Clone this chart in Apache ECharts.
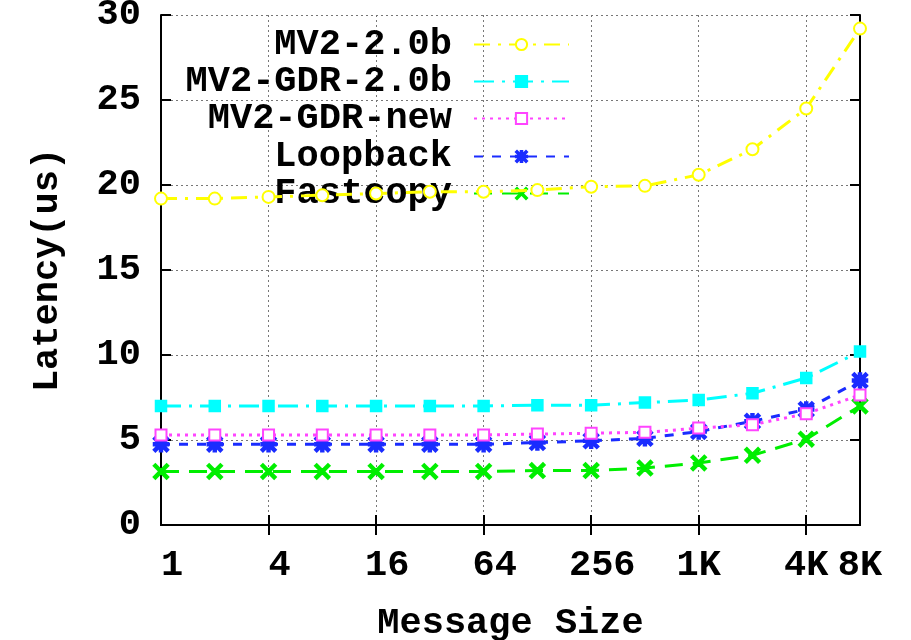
<!DOCTYPE html>
<html>
<head>
<meta charset="utf-8">
<script src="https://cdn.jsdelivr.net/npm/echarts@6/dist/echarts.min.js"></script>
<style>html,body{margin:0;padding:0;background:#fff}#c{width:911px;height:640px}</style>
</head>
<body>
<div id="c"></div>
<script>
const sizes = ['1','2','4','8','16','32','64','128','256','512','1K','2K','4K','8K'];
const shownLabels = ['1','4','16','64','256','1K','4K','8K'];
const mv2 = [19.2,19.2,19.3,19.4,19.5,19.6,19.6,19.7,19.9,19.95,20.6,22.1,24.5,29.2];
const gdr20b = [7.0,7.0,7.0,7.0,7.0,7.0,7.0,7.05,7.05,7.2,7.35,7.75,8.65,10.2];
const gdrNew = [5.3,5.3,5.3,5.3,5.3,5.3,5.3,5.35,5.4,5.45,5.7,5.9,6.55,7.65];
const loopback = [4.75,4.75,4.75,4.75,4.75,4.75,4.75,4.85,4.95,5.1,5.5,6.1,6.8,8.5];
const fastcopy = [3.15,3.15,3.15,3.15,3.15,3.15,3.15,3.2,3.2,3.35,3.65,4.1,5.05,7.0];
const seriesNames = ['MV2-2.0b','MV2-GDR-2.0b','MV2-GDR-new','Loopback','Fastcopy'];

const FONT = 'Liberation Mono';
const XPATH = 'path://M0,1 L1,0 L5,4 L9,0 L10,1 L6,5 L10,9 L9,10 L5,6 L1,10 L0,9 L4,5 Z';
const STAR = 'path://M0,1 L1,0 L5,4 L9,0 L10,1 L6,5 L10,9 L9,10 L5,6 L1,10 L0,9 L4,5 Z M4.3,0 L5.7,0 L5.7,10 L4.3,10 Z M0,4.3 L10,4.3 L10,5.7 L0,5.7 Z';

const showIdx = (i, v) => shownLabels.indexOf(v) >= 0;
const innerIdx = (i, v) => shownLabels.indexOf(v) >= 0 && v !== '1' && v !== '8K';

const styles = [
  {color:'#ffff00', symbol:'emptyCircle', size:12, dash:[16,8,3,8]},
  {color:'#00ffff', symbol:'rect', size:10, dash:[20,8,3,8]},
  {color:'#ff44ff', symbol:'emptyRect', size:11, dash:[3,5]},
  {color:'#1a2cff', symbol:STAR, size:14, dash:[9,9]},
  {color:'#00ee00', symbol:XPATH, size:14, dash:[18,10]}
];
const dataSets = [mv2, gdr20b, gdrNew, loopback, fastcopy];
const legendTops = [45, 82, 119, 157, 194];

const option = {
  animation: false,
  backgroundColor: '#fff',
  grid: {left:161, right:51, top:15, bottom:115, outerBoundsMode: 'none', containLabel: false},
  legend: seriesNames.map((n, i) => ({
    data: [n],
    orient: 'vertical',
    align: 'right',
    right: 341,
    top: legendTops[i] - 19,
    padding: 0,
    itemWidth: 95,
    itemHeight: 14,
    selectedMode: false,
    textStyle: {fontFamily: FONT, fontSize: 37, fontWeight: 'bold', color: '#000', padding: [0, 17, 0, 0]}
  })),
  xAxis: [{
    type: 'category', data: sizes, boundaryGap: false,
    name: 'Message Size', nameLocation: 'middle', nameGap: 80,
    nameTextStyle: {fontFamily: FONT, fontSize: 37, fontWeight: 'bold', color: '#000'},
    axisLine: {lineStyle: {color: '#000', width: 2}},
    axisTick: {inside: true, length: 10, interval: innerIdx, lineStyle: {color: '#000', width: 2}},
    axisLabel: {interval: showIdx, margin: 22, fontFamily: FONT, fontSize: 37, fontWeight: 'bold', color: '#000',
      formatter: v => (v.indexOf('K') < 0 ? ' ' : '') + v},
    splitLine: {show: true, interval: innerIdx, lineStyle: {color: '#777', width: 1, type: [2, 3]}}
  }, {
    type: 'category', data: sizes, boundaryGap: false, position: 'top',
    axisLine: {lineStyle: {color: '#000', width: 2}},
    axisTick: {inside: true, length: 10, interval: innerIdx, lineStyle: {color: '#000', width: 2}},
    axisLabel: {show: false}, splitLine: {show: false}
  }],
  yAxis: [{
    type: 'value', min: 0, max: 30, interval: 5,
    name: 'Latency(us)', nameLocation: 'middle', nameGap: 95, nameRotate: 90,
    nameTextStyle: {fontFamily: FONT, fontSize: 37, fontWeight: 'bold', color: '#000'},
    axisLine: {show: true, lineStyle: {color: '#000', width: 2}},
    axisTick: {show: true, inside: true, length: 10, lineStyle: {color: '#000', width: 2}},
    axisLabel: {margin: 20, fontFamily: FONT, fontSize: 37, fontWeight: 'bold', color: '#000'},
    splitLine: {show: true, lineStyle: {color: '#777', width: 1, type: [2, 3]}}
  }, {
    type: 'value', min: 0, max: 30, interval: 5, position: 'right',
    axisLine: {show: true, lineStyle: {color: '#000', width: 2}},
    axisTick: {show: true, inside: true, length: 10, lineStyle: {color: '#000', width: 2}},
    axisLabel: {show: false}, splitLine: {show: false}
  }],
  series: seriesNames.map((n, i) => ({
    name: n, type: 'line', data: dataSets[i],
    xAxisIndex: 0, yAxisIndex: 0,
    symbol: styles[i].symbol, symbolSize: styles[i].size,
    showAllSymbol: true,
    itemStyle: {color: styles[i].color, borderColor: styles[i].color, borderWidth: 2.5},
    lineStyle: {color: styles[i].color, width: 3, type: styles[i].dash},
    z: 10 - i
  }))
};
const chart = echarts.init(document.getElementById('c'), null, {renderer: 'canvas'});
chart.setOption(option);
</script>
</body>
</html>
